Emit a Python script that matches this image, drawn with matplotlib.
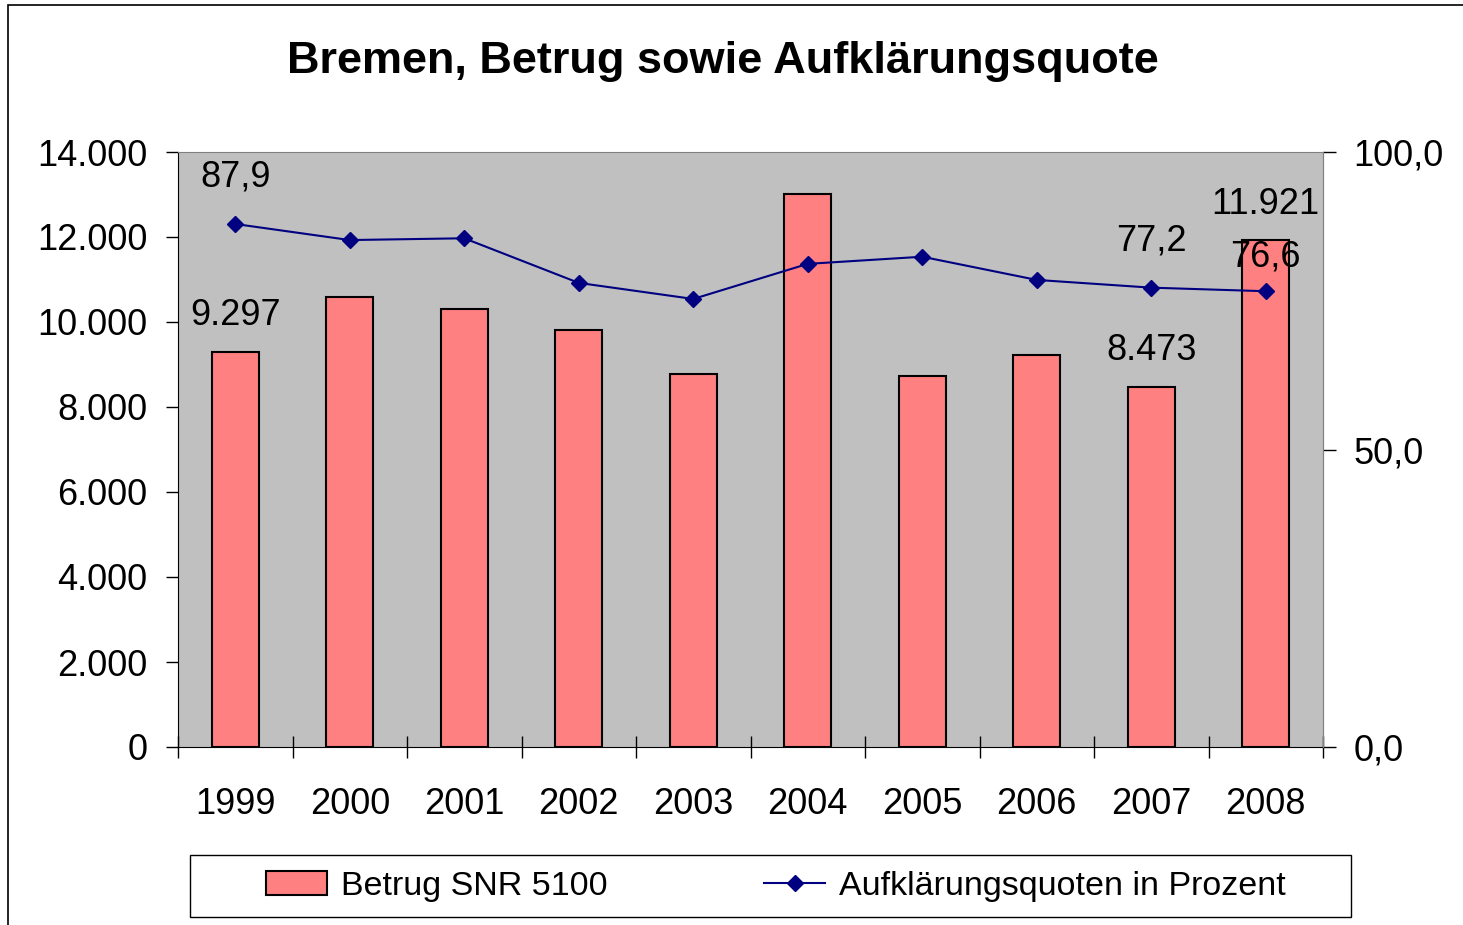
import numpy as np
import matplotlib
matplotlib.use("Agg")
import matplotlib.pyplot as plt
from matplotlib.patches import Rectangle

plt.rcParams['font.family'] = ['Liberation Sans', 'DejaVu Sans']

years = ['1999', '2000', '2001', '2002', '2003', '2004', '2005', '2006', '2007', '2008']
betrug = [9297, 10590, 10310, 9810, 8780, 13010, 8730, 9220, 8473, 11921]
quote = [87.9, 85.2, 85.5, 78.0, 75.3, 81.2, 82.4, 78.5, 77.2, 76.6]
bar_labelled = [0, 8, 9]
line_labelled = [0, 8, 9]

W, H = 1463, 925
fig = plt.figure(figsize=(W / 100, H / 100), dpi=100)
fig.patches.append(Rectangle((8 / W, -0.1), 1.2, 1 - 5 / H + 0.1, transform=fig.transFigure,
                             fill=False, edgecolor='black', linewidth=1.2))

ax = fig.add_axes([178 / W, 1 - 747 / H, (1323 - 178) / W, (747 - 152) / H])
ax.set_facecolor('#C0C0C0')
x = np.arange(len(years))
bars = ax.bar(x, betrug, width=0.41, color='#FF8080', edgecolor='black', linewidth=1.5,
              label='Betrug SNR 5100', zorder=2)
ax.set_xlim(-0.5, len(years) - 0.5)
ax.set_ylim(0, 14000)
ax.set_yticks(range(0, 14001, 2000))
ax.set_yticklabels([f"{v:,}".replace(',', '.') for v in range(0, 14001, 2000)], fontsize=26)
ax.tick_params(axis='y', direction='out', length=9, width=1, pad=13)

ax.set_xticks(np.arange(-0.5, len(years), 1))
ax.set_xticklabels([])
ax.tick_params(axis='x', which='major', direction='inout', length=16, width=1)
ax.set_xticks(x, minor=True)
ax.set_xticklabels(years, minor=True, fontsize=26)
ax.tick_params(axis='x', which='minor', length=0, pad=29)

ax.spines['top'].set_color('#808080')
ax.spines['right'].set_color('#808080')

ax2 = ax.twinx()
line, = ax2.plot(x, quote, color='#000080', marker='D', markersize=8, linewidth=1.5,
                 label='Aufklärungsquoten in Prozent', zorder=3)
ax2.set_ylim(0, 100)
ax2.set_yticks([0, 50, 100])
ax2.set_yticklabels(['0,0', '50,0', '100,0'], fontsize=26)
ax2.tick_params(axis='y', direction='out', length=9, width=1, pad=13)
ax2.spines['right'].set_color('#808080')
ax2.spines['top'].set_visible(False)
ax2.spines['left'].set_visible(False)
ax2.spines['bottom'].set_visible(False)

for i in bar_labelled:
    ax.annotate(f"{betrug[i]:,}".replace(',', '.'), (x[i], betrug[i]), xytext=(0, 36),
                textcoords='offset pixels', ha='center', va='center', fontsize=26, zorder=5)
line_offsets = {0: 47, 8: 47, 9: 34}
for i in line_labelled:
    ax2.annotate(f"{quote[i]:.1f}".replace('.', ','), (x[i], quote[i]), xytext=(0, line_offsets[i]),
                 textcoords='offset pixels', ha='center', va='center', fontsize=26, zorder=5)

fig.text(723 / W, 1 - 62 / H, 'Bremen, Betrug sowie Aufklärungsquote', ha='center', va='center',
         fontsize=32.5, fontweight='bold')

# legend box drawn separately, legend itself without frame
fig.patches.append(Rectangle((190 / W, 1 - 917 / H), (1351 - 190) / W, (917 - 855) / H,
                             transform=fig.transFigure, facecolor='white', edgecolor='black',
                             linewidth=1, zorder=1))
leg = fig.legend(handles=[bars, line], loc='center', bbox_to_anchor=(776 / W, 1 - 886 / H),
                 ncol=2, fontsize=24.5, frameon=False, handlelength=1.8, handletextpad=0.4,
                 columnspacing=4.6, borderpad=0.2)

fig.savefig('out.png', dpi=100)
